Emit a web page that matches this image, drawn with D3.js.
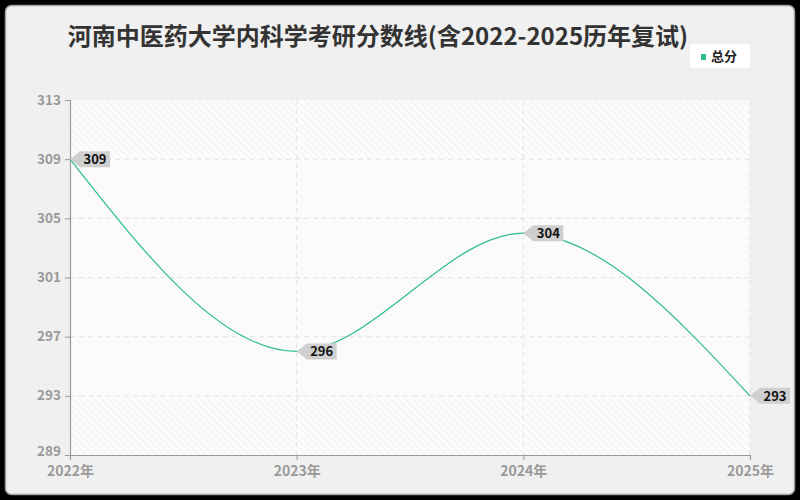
<!DOCTYPE html>
<html>
<head>
<meta charset="utf-8">
<script src="https://cdn.jsdelivr.net/npm/d3@7"></script>
<style>
  html, body { margin: 0; padding: 0; background: #000; }
  svg { display: block; font-family: "Noto Sans CJK SC", "Noto Sans", sans-serif; }
</style>
</head>
<body>
<div id="chart"></div>
<script>
// data
const years = ["2022年", "2023年", "2024年", "2025年"];
const scores = [309, 296, 304, 293];
const yTicks = [289, 293, 297, 301, 305, 309, 313];
const seriesName = "总分";
const title = "河南中医药大学内科学考研分数线(含2022-2025历年复试)";

let margin = {top: 100, right: 50, bottom: 45, left: 70},
  W = 800, H = 500,
  width = W - margin.left - margin.right,
  height = H - margin.top - margin.bottom;

let root = d3.select("#chart")
  .append("svg")
  .attr("width", W)
  .attr("height", H);

// card
root.append("rect")
  .attr("x", 5.5).attr("y", 5.5)
  .attr("width", 789).attr("height", 489)
  .attr("rx", 6)
  .attr("fill", "#f0f0f0")
  .attr("stroke", "#a0a0a0")
  .attr("stroke-width", 1.5);

// hatch pattern
let defs = root.append("defs");
let pat = defs.append("pattern")
  .attr("id", "hatch")
  .attr("patternUnits", "userSpaceOnUse")
  .attr("width", 5).attr("height", 5)
  .attr("patternTransform", "rotate(-45)");
pat.append("rect").attr("width", 5).attr("height", 5).attr("fill", "#fcfcfc");
pat.append("line")
  .attr("x1", 0).attr("y1", 0).attr("x2", 0).attr("y2", 5)
  .attr("stroke", "#e6e6e6").attr("stroke-width", 1);

// title
root.append("text")
  .attr("x", 378).attr("y", 45)
  .attr("text-anchor", "middle")
  .attr("font-size", 24)
  .attr("font-weight", "bold")
  .attr("fill", "#333")
  .text(title);

// legend
let lg = root.append("g").attr("transform", "translate(690,44)");
lg.append("rect")
  .attr("width", 60).attr("height", 24).attr("rx", 4)
  .attr("fill", "#fff");
lg.append("rect")
  .attr("x", 11).attr("y", 10).attr("width", 5).attr("height", 6)
  .attr("fill", "#2dbd8a");
lg.append("text")
  .attr("x", 21).attr("y", 17)
  .attr("font-size", 13)
  .attr("font-weight", "bold")
  .attr("fill", "#222")
  .text(seriesName);

let svg = root.append("g")
  .attr("transform", "translate(" + margin.left + "," + margin.top + ")");

let x = d3.scalePoint()
  .domain(years)
  .range([0, width]);

let y = d3.scaleLinear()
  .domain([d3.min(yTicks), d3.max(yTicks)])
  .range([height, 0]);

// plot background
svg.append("rect")
  .attr("width", width).attr("height", height)
  .attr("fill", "url(#hatch)");
// lighter band between min and max values
svg.append("rect")
  .attr("x", 0)
  .attr("y", y(d3.max(scores)))
  .attr("width", width)
  .attr("height", y(d3.min(scores)) - y(d3.max(scores)))
  .attr("fill", "#fafafa")
  .attr("opacity", 0.8);

// grid lines
svg.selectAll("line.hgrid").data(yTicks.slice(1, -1)).enter()
  .append("line")
  .attr("class", "hgrid")
  .attr("x1", 0).attr("x2", width)
  .attr("y1", function(d) { return y(d); })
  .attr("y2", function(d) { return y(d); })
  .attr("stroke", "#e3e3e3")
  .attr("stroke-dasharray", "5,4");

svg.selectAll("line.vgrid").data(years.slice(1)).enter()
  .append("line")
  .attr("class", "vgrid")
  .attr("x1", function(d) { return x(d); })
  .attr("x2", function(d) { return x(d); })
  .attr("y1", 0).attr("y2", height)
  .attr("stroke", "#e3e3e3")
  .attr("stroke-dasharray", "5,4");

// axes
let yAxis = svg.append("g")
  .call(d3.axisLeft(y).tickValues(yTicks).tickSize(5).tickPadding(4));
let xAxis = svg.append("g")
  .attr("transform", "translate(0," + height + ")")
  .call(d3.axisBottom(x).tickSize(5).tickPadding(6));

[yAxis, xAxis].forEach(function(a) {
  a.select(".domain").attr("stroke", "#9a9a9a").attr("stroke-width", 1.2);
  a.selectAll(".tick line").attr("stroke", "#9a9a9a");
  a.selectAll(".tick text")
    .attr("fill", "#999")
    .attr("font-size", 14)
    .attr("font-weight", "bold")
    .attr("font-family", "\"Noto Sans CJK SC\", sans-serif");
});
yAxis.selectAll(".tick text")
  .attr("font-size", 13.5)
  .attr("dy", function(d) { return d === d3.min(yTicks) ? "0.05em" : "0.3em"; });

// line
let data = years.map(function(d, i) { return {year: d, value: scores[i]}; });
svg.append("path")
  .datum(data)
  .attr("fill", "none")
  .attr("stroke", "#2dbd8a")
  .attr("stroke-width", 1.2)
  .attr("d", d3.line()
    .x(function(d) { return x(d.year); })
    .y(function(d) { return y(d.value); })
    .curve(d3.curveMonotoneX));

// value labels with arrow on the left
let labels = svg.selectAll("g.vlabel").data(data).enter()
  .append("g")
  .attr("class", "vlabel")
  .attr("transform", function(d) {
    return "translate(" + x(d.year) + "," + y(d.value) + ")";
  });
labels.append("path")
  .attr("d", "M0,0 L10,-8 L40,-8 L40,8 L10,8 Z")
  .attr("fill", "#cfcfcf");
labels.append("text")
  .attr("x", 25).attr("y", 5)
  .attr("text-anchor", "middle")
  .attr("font-size", 13)
  .attr("font-weight", "bold")
  .attr("fill", "#111")
  .text(function(d) { return d.value; });
</script>
</body>
</html>
